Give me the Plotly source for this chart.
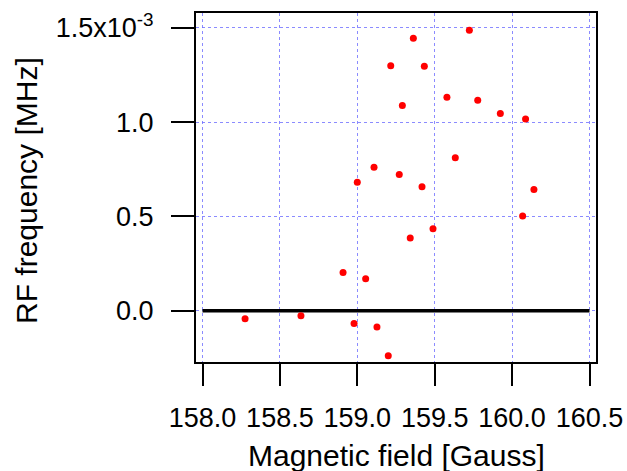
import plotly.graph_objects as go

# Measured resonance points: magnetic field [Gauss] vs RF frequency shift [MHz]
field_gauss = [158.275, 158.636, 158.908, 158.979, 159.000, 159.054, 159.108,
               159.127, 159.200, 159.216, 159.271, 159.291, 159.342, 159.362,
               159.418, 159.433, 159.489, 159.579, 159.633, 159.724, 159.778,
               159.924, 160.068, 160.087, 160.141]
rf_freq_mhz = [-0.043e-3, -0.027e-3, 0.203e-3, -0.068e-3, 0.682e-3, 0.169e-3,
               0.761e-3, -0.087e-3, -0.239e-3, 1.299e-3, 0.722e-3, 1.088e-3,
               0.385e-3, 1.445e-3, 0.657e-3, 1.297e-3, 0.434e-3, 1.133e-3,
               0.812e-3, 1.488e-3, 1.117e-3, 1.046e-3, 0.502e-3, 1.017e-3,
               0.643e-3]

x_ticks = [158.0, 158.5, 159.0, 159.5, 160.0, 160.5]
x_tick_labels = ["158.0", "158.5", "159.0", "159.5", "160.0", "160.5"]
y_ticks = [0.0, 0.5e-3, 1.0e-3, 1.5e-3]
y_tick_labels = ["0.0", "0.5", "1.0", "1.5x10<sup>-3</sup>"]

x_title = "Magnetic field [Gauss]"
y_title = "RF frequency [MHz]"

# Reference line at zero frequency
ref_x = [158.0, 160.5]
ref_y = [0.0, 0.0]

font_family = "Liberation Sans, Arial, sans-serif"
grid_color = "rgba(110,110,255,0.8)"

fig = go.Figure()
fig.add_trace(go.Scatter(x=ref_x, y=ref_y, mode="lines",
                         line=dict(color="black", width=3.5),
                         hoverinfo="skip", showlegend=False))
fig.add_trace(go.Scatter(x=field_gauss, y=rf_freq_mhz, mode="markers",
                         marker=dict(color="red", size=7, line=dict(width=0)),
                         showlegend=False))

fig.update_layout(
    width=627, height=471,
    margin=dict(l=196, r=31, t=13, b=109),
    plot_bgcolor="white", paper_bgcolor="white",
    font=dict(family=font_family, size=27, color="black"),
)
fig.update_xaxes(
    range=[157.958, 160.542], automargin=False,
    tickmode="array", tickvals=x_ticks, ticktext=x_tick_labels,
    ticks="outside", ticklen=22, tickwidth=1.5, tickcolor="black",
    ticklabelstandoff=9,
    showline=True, linecolor="black", linewidth=2, mirror=True,
    showgrid=True, gridcolor=grid_color, griddash="dot", gridwidth=1,
    zeroline=False,
    tickfont=dict(family=font_family, size=27),
)
fig.update_yaxes(
    range=[-0.2725e-3, 1.5795e-3], automargin=False,
    tickmode="array", tickvals=y_ticks, ticktext=y_tick_labels,
    ticks="outside", ticklen=23, tickwidth=1.5, tickcolor="black",
    ticklabelstandoff=12,
    showline=True, linecolor="black", linewidth=2, mirror=True,
    showgrid=True, gridcolor=grid_color, griddash="dot", gridwidth=1,
    zeroline=False,
    tickfont=dict(family=font_family, size=27),
)

# Axis titles placed in paper coordinates
fig.add_annotation(text=x_title, xref="paper", yref="paper",
                   x=0.5, y=-0.269, xanchor="center", yanchor="middle",
                   showarrow=False, font=dict(family=font_family, size=30))
fig.add_annotation(text=y_title, xref="paper", yref="paper",
                   x=-0.4225, y=0.49, xanchor="center", yanchor="middle",
                   textangle=-90, showarrow=False,
                   font=dict(family=font_family, size=30))

fig.write_html("out.html")
